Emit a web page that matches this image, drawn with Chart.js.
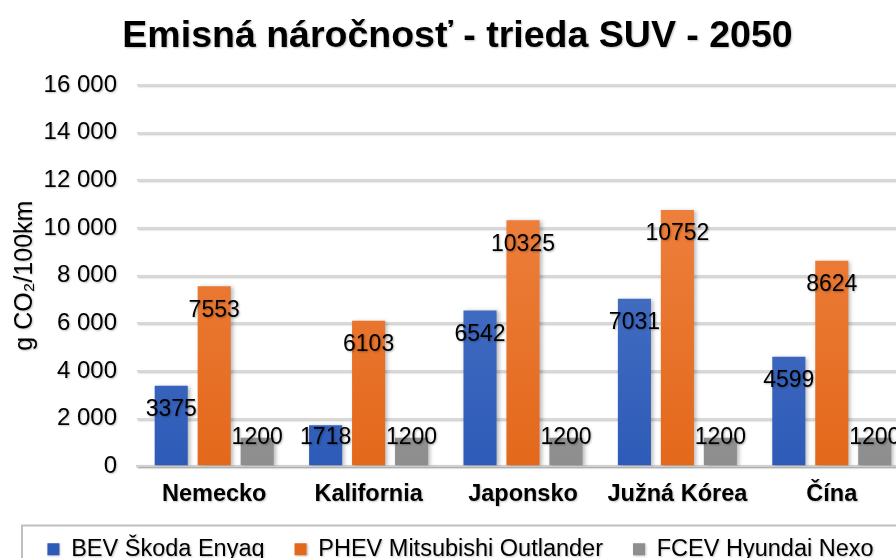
<!DOCTYPE html>
<html lang="sk">
<head>
    <meta charset="UTF-8">
    <title>Emisná náročnosť - trieda SUV - 2050</title>
    <script src="https://cdn.jsdelivr.net/npm/chart.js"></script>
    <style>
        html, body { margin: 0; padding: 0; background: #fff; overflow: hidden; }
        #wrap { width: 896px; height: 558px; overflow: hidden; }
        canvas { display: block; }
    </style>
</head>
<body>
    <div id="wrap">
        <canvas id="chart" width="912" height="571"></canvas>
    </div>

    <script>
        // Data
        const countries = ['Nemecko', 'Kalifornia', 'Japonsko', 'Južná Kórea', 'Čína'];
        const bevValues = [3375, 1718, 6542, 7031, 4599];
        const phevValues = [7553, 6103, 10325, 10752, 8624];
        const fcevValues = [1200, 1200, 1200, 1200, 1200];
        const seriesNames = ['BEV Škoda Enyaq', 'PHEV Mitsubishi Outlander', 'FCEV Hyundai Nexo'];
        const yTicks = [0, 2000, 4000, 6000, 8000, 10000, 12000, 14000, 16000];

        const FONT = "'Liberation Sans', Arial, sans-serif";

        // top / bottom colors of each bar gradient
        const gradColors = [
            ['#5c80cf', '#2d5bb7'],
            ['#f28a4c', '#e3681b'],
            ['#a8a8a8', '#8e8e8e']
        ];

        function barGradient(idx) {
            return (ctx) => {
                const chart = ctx.chart;
                const { chartArea } = chart;
                if (!chartArea) return gradColors[idx][1];
                const g = chart.ctx.createLinearGradient(0, chartArea.top, 0, chartArea.bottom);
                g.addColorStop(0, gradColors[idx][0]);
                g.addColorStop(1, gradColors[idx][1]);
                return g;
            };
        }

        const spaced = v => String(v).replace(/\B(?=(\d{3})+(?!\d))/g, ' ');

        // soft shadow behind the bars
        const barShadow = {
            id: 'barShadow',
            beforeDatasetsDraw(chart) {
                const c = chart.ctx;
                c.save();
                c.shadowColor = 'rgba(0,0,0,0.28)';
                c.shadowBlur = 4;
                c.shadowOffsetX = 2;
                c.shadowOffsetY = 1;
            },
            afterDatasetsDraw(chart) {
                chart.ctx.restore();
            }
        };

        // value labels just inside the top of each bar
        const valueLabels = {
            id: 'valueLabels',
            afterDatasetsDraw(chart) {
                const c = chart.ctx;
                c.save();
                c.font = '23px ' + FONT;
                c.fillStyle = '#000';
                c.textAlign = 'center';
                c.textBaseline = 'middle';
                c.shadowColor = 'rgba(0,0,0,0.3)';
                c.shadowBlur = 2;
                c.shadowOffsetX = 1;
                c.shadowOffsetY = 1;
                chart.data.datasets.forEach((ds, i) => {
                    chart.getDatasetMeta(i).data.forEach((bar, j) => {
                        const y = Math.min(bar.y + 24, bar.base - 28);
                        c.fillText(String(ds.data[j]), bar.x, y);
                    });
                });
                c.restore();
            }
        };

        // legend sits a bit right of centre in the original, and has a frame
        const legendFrame = {
            id: 'legendFrame',
            afterLayout(chart) {
                chart.legend.left += 3;
                chart.legend.right += 3;
            },
            afterDraw(chart) {
                const lg = chart.legend;
                const c = chart.ctx;
                c.save();
                c.strokeStyle = '#bfbfbf';
                c.lineWidth = 2;
                c.strokeRect(22, lg.top + 18, chart.width - 20, lg.height + 20);
                c.restore();
            }
        };

        const titleShadow = {
            id: 'titleShadow',
            beforeDraw(chart) {
                chart.ctx.save();
                chart.ctx.shadowColor = 'rgba(0,0,0,0.25)';
                chart.ctx.shadowBlur = 2;
                chart.ctx.shadowOffsetX = 1;
                chart.ctx.shadowOffsetY = 1;
            },
            afterDraw(chart) {
                chart.ctx.restore();
            }
        };

        new Chart(document.getElementById('chart').getContext('2d'), {
            type: 'bar',
            data: {
                labels: countries,
                datasets: [
                    { label: seriesNames[0], data: bevValues, backgroundColor: barGradient(0) },
                    { label: seriesNames[1], data: phevValues, backgroundColor: barGradient(1) },
                    { label: seriesNames[2], data: fcevValues, backgroundColor: barGradient(2) }
                ]
            },
            options: {
                responsive: false,
                animation: false,
                categoryPercentage: 0.835,
                barPercentage: 0.77,
                layout: { padding: { left: 6, right: 3, top: 0, bottom: 0 } },
                scales: {
                    x: {
                        grid: { display: false, drawTicks: false },
                        border: { display: true, color: '#d0d0d0', width: 2 },
                        afterFit: s => {
                            s.height -= 15;
                            s.paddingLeft = 0;
                            s.paddingRight = 0;
                        },
                        ticks: {
                            color: '#000',
                            padding: 14,
                            maxRotation: 0,
                            font: { family: FONT, size: 23.5, weight: 'bold' }
                        }
                    },
                    y: {
                        min: 0,
                        max: 16000,
                        afterBuildTicks: axis => { axis.ticks = yTicks.map(v => ({ value: v })); },
                        afterFit: s => { s.width = 131; },
                        grid: { color: '#d9d9d9', lineWidth: 2, drawTicks: false },
                        border: { display: false },
                        ticks: {
                            color: '#000',
                            padding: 20,
                            font: { family: FONT, size: 24 },
                            callback: v => spaced(v)
                        },
                        title: {
                            display: true,
                            text: 'g CO₂/100km',
                            color: '#000',
                            padding: { top: 4, bottom: 5 },
                            font: { family: FONT, size: 25 }
                        }
                    }
                },
                plugins: {
                    title: {
                        display: true,
                        text: 'Emisná náročnosť - trieda SUV - 2050',
                        color: '#000',
                        padding: { top: 14, bottom: 26 },
                        font: { family: FONT, size: 37.5, weight: 'bold' }
                    },
                    legend: {
                        position: 'bottom',
                        labels: {
                            color: '#000',
                            boxWidth: 12,
                            boxHeight: 12,
                            padding: 30,
                            font: { family: FONT, size: 23.5 }
                        }
                    },
                    tooltip: { enabled: false }
                }
            },
            plugins: [titleShadow, barShadow, valueLabels, legendFrame]
        });
    </script>
</body>
</html>
